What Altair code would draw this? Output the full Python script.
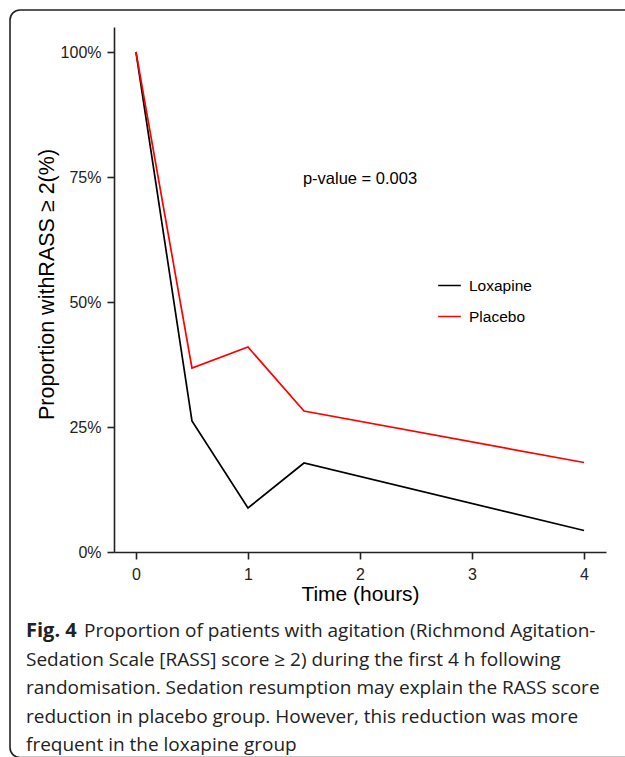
import altair as alt
import pandas as pd

# ---- data ----
hours = [0, 0.5, 1, 1.5, 4]
loxapine = [1.00, 0.262, 0.088, 0.178, 0.043]
placebo = [1.00, 0.368, 0.410, 0.282, 0.179]
groups = ["Loxapine", "Placebo"]
colors = ["#000000", "#ff0000"]
x_ticks = [0, 1, 2, 3, 4]
y_ticks = [0, 0.25, 0.5, 0.75, 1.0]
p_label = "p-value = 0.003"
x_title = "Time (hours)"
y_title = "Proportion withRASS \u2265 2(%)"
caption_bold = "Fig. 4"
caption_lines = [
    "Proportion of patients with agitation (Richmond Agitation-",
    "Sedation Scale [RASS] score \u2265 2) during the first 4 h following",
    "randomisation. Sedation resumption may explain the RASS score",
    "reduction in placebo group. However, this reduction was more",
    "frequent in the loxapine group",
]

df = pd.DataFrame(
    {
        "hours": hours * 2,
        "value": loxapine + placebo,
        "group": [groups[0]] * len(hours) + [groups[1]] * len(hours),
    }
)
one = pd.DataFrame({"k": [0]})

W, H = 492, 525
PAD = {"left": 114, "top": 27, "right": 19, "bottom": 205}
AX_FONT = "Liberation Sans"
CAP_FONT = "Open Sans"

lines = alt.Chart(df).mark_line(strokeWidth=1.7).encode(
    x=alt.X(
        "hours:Q",
        scale=alt.Scale(domain=[-0.196, 4.196], nice=False, zero=False),
        axis=alt.Axis(
            values=x_ticks, format="d", title=x_title,
            titleX=246, titleY=48, titleBaseline="alphabetic", titleAlign="center",
            titleFontSize=21, labelPadding=7,
        ),
    ),
    y=alt.Y(
        "value:Q",
        scale=alt.Scale(domain=[0, 1.05], nice=False),
        axis=alt.Axis(
            values=y_ticks, format=".0%", title=y_title,
            titleX=-61, titleY=257, titleAngle=270, titleBaseline="alphabetic",
            titleAlign="center", titleFontSize=21.5, labelPadding=6,
        ),
    ),
    color=alt.Color(
        "group:N",
        scale=alt.Scale(domain=groups, range=colors),
        legend=alt.Legend(
            title=None, orient="none", legendX=323, legendY=246,
            symbolType="stroke", symbolSize=515, symbolStrokeWidth=1.5,
            labelFontSize=15.5, labelFont=AX_FONT, labelColor="#000",
            labelOffset=7, rowPadding=10, padding=0,
        ),
    ),
)

pval = alt.Chart(one).mark_text(
    text=p_label, font=AX_FONT, fontSize=16.5, color="#000", align="center", baseline="alphabetic"
).encode(x=alt.value(246), y=alt.value(157))

frame = alt.Chart(one).mark_rect(
    fillOpacity=0, stroke="#222", strokeWidth=1.6, cornerRadius=10
).encode(
    x=alt.value(10 - PAD["left"]), x2=alt.value(625 - PAD["left"] + 30),
    y=alt.value(10 - PAD["top"]), y2=alt.value(757.5 - PAD["top"]),
)

cap_layers = []
cap_x = 26 - PAD["left"]
baselines = [637, 665.5, 694, 722.5, 751]
cap_layers.append(
    alt.Chart(one).mark_text(
        text=caption_bold, font=CAP_FONT, fontSize=20, fontWeight="bold",
        color="#222", align="left", baseline="alphabetic",
    ).encode(x=alt.value(cap_x), y=alt.value(baselines[0] - PAD["top"]))
)
for i, line in enumerate(caption_lines):
    xx = 84 - PAD["left"] if i == 0 else cap_x
    cap_layers.append(
        alt.Chart(one).mark_text(
            text=line, font=CAP_FONT, fontSize=19, color="#222",
            align="left", baseline="alphabetic",
        ).encode(x=alt.value(xx), y=alt.value(baselines[i] - PAD["top"]))
    )

chart = alt.layer(frame, lines, pval, *cap_layers).properties(
    width=W, height=H,
    autosize=alt.AutoSizeParams(type="none"),
    padding=PAD,
    background="white",
).configure_view(stroke=None).configure_axis(
    grid=False,
    domainColor="#222", domainWidth=1.6,
    tickColor="#222", tickWidth=1.6, tickSize=7,
    labelFont=AX_FONT, labelFontSize=16, labelColor="#222",
    titleFont=AX_FONT, titleFontSize=20, titleFontWeight="normal", titleColor="#000",
)

chart.save("out.html", embed_options={"renderer": "svg", "actions": False})
